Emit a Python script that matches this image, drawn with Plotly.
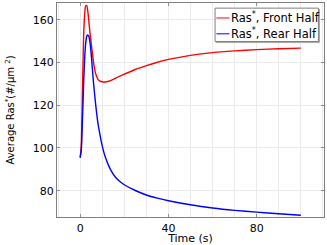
import plotly.graph_objects as go

time_s = [0, 0.5, 1, 1.5, 2, 2.5, 3, 3.5, 4, 4.5, 5, 6, 7, 8, 9, 10, 11, 12, 13, 14, 16, 18,
          20, 25, 30, 35, 40, 50, 60, 70, 80, 90, 100]
front_half = [95.5, 101, 125, 150, 162, 166.5, 166.6, 163.5, 158.5, 153.5, 149, 140.5, 134.8,
              132.2, 131.3, 130.95, 130.85, 130.95, 131.2, 131.6, 132.6, 133.6,
              134.5, 136.7, 138.5, 140.1, 141.4, 143.3, 144.6, 145.4, 146.0, 146.4, 146.7]
rear_half = [95.5, 99, 112, 128, 141, 149, 152.3, 152.8, 152, 149, 144, 131, 120.5,
             112, 106, 101, 97, 94, 91.5, 89.4, 86.3, 84.3,
             82.8, 80.1, 78.0, 76.5, 75.3, 73.4, 71.9, 70.8, 70.0, 69.2, 68.5]
series_names = ["Ras<sup>*</sup>, Front Half", "Ras<sup>*</sup>, Rear Half"]
series_colors = ["#ff0000", "#0000ff"]
x_ticks = [0, 40, 80]
y_ticks = [80, 100, 120, 140, 160]

FONT = "DejaVu Sans"
fig = go.Figure()
for vals, name, col in zip([front_half, rear_half], series_names, series_colors):
    fig.add_trace(go.Scatter(x=time_s, y=vals, mode="lines", name=name,
                             line=dict(color=col, width=1.4, shape="spline", smoothing=0.6),
                             showlegend=False, hoverinfo="skip"))

axis_common = dict(showline=True, linecolor="#808080", linewidth=1, mirror="ticks",
                   ticks="inside", ticklen=3, tickcolor="#909090", gridcolor="#ebebeb",
                   gridwidth=1, zeroline=False, tickfont=dict(family=FONT, size=11, color="#000"))
fig.update_xaxes(range=[-10.5, 110.5], tickvals=x_ticks, ticklabelstandoff=1,
                 minor=dict(dtick=10, showgrid=True, gridcolor="#ebebeb", ticks=""),
                 title=dict(text="Time (s)", font=dict(family=FONT, size=11, color="#000"), standoff=0),
                 **axis_common)
fig.update_yaxes(range=[67.7, 167.8], tickvals=y_ticks,
                 title=dict(text="Average Ras<sup>*</sup>(#/μm <sup>2</sup>)",
                            font=dict(family=FONT, size=10, color="#000"), standoff=16),
                 **axis_common)

# legend box drawn in paper coordinates
x0, x1, y0, y1 = 0.592, 0.979, 0.82, 0.976
shapes = [dict(type="rect", xref="paper", yref="paper", x0=x0 + 0.004, x1=x1 + 0.004,
               y0=y0 - 0.005, y1=y1 - 0.005, line=dict(color="#a8a8a8", width=1), fillcolor="#a8a8a8"),
          dict(type="rect", xref="paper", yref="paper", x0=x0, x1=x1, y0=y0, y1=y1,
               line=dict(color="#808080", width=1), fillcolor="white")]
annotations = []
rows = [0.93, 0.856]
for ry, name, col in zip(rows, series_names, series_colors):
    shapes.append(dict(type="line", xref="paper", yref="paper", x0=x0 + 0.005, x1=x0 + 0.054,
                       y0=ry, y1=ry, line=dict(color=col, width=1)))
    annotations.append(dict(xref="paper", yref="paper", x=x0 + 0.054, y=ry, text=name,
                            showarrow=False, xanchor="left", yanchor="middle",
                            font=dict(family=FONT, size=11.5, color="#000")))

fig.update_layout(width=327, height=245, margin=dict(l=57, r=2, t=2, b=25),
                  plot_bgcolor="white", paper_bgcolor="white",
                  shapes=shapes, annotations=annotations)
fig.write_html("out.html", config={"displayModeBar": False},
               post_script="document.body.style.margin='0';document.body.style.overflow='hidden';")
